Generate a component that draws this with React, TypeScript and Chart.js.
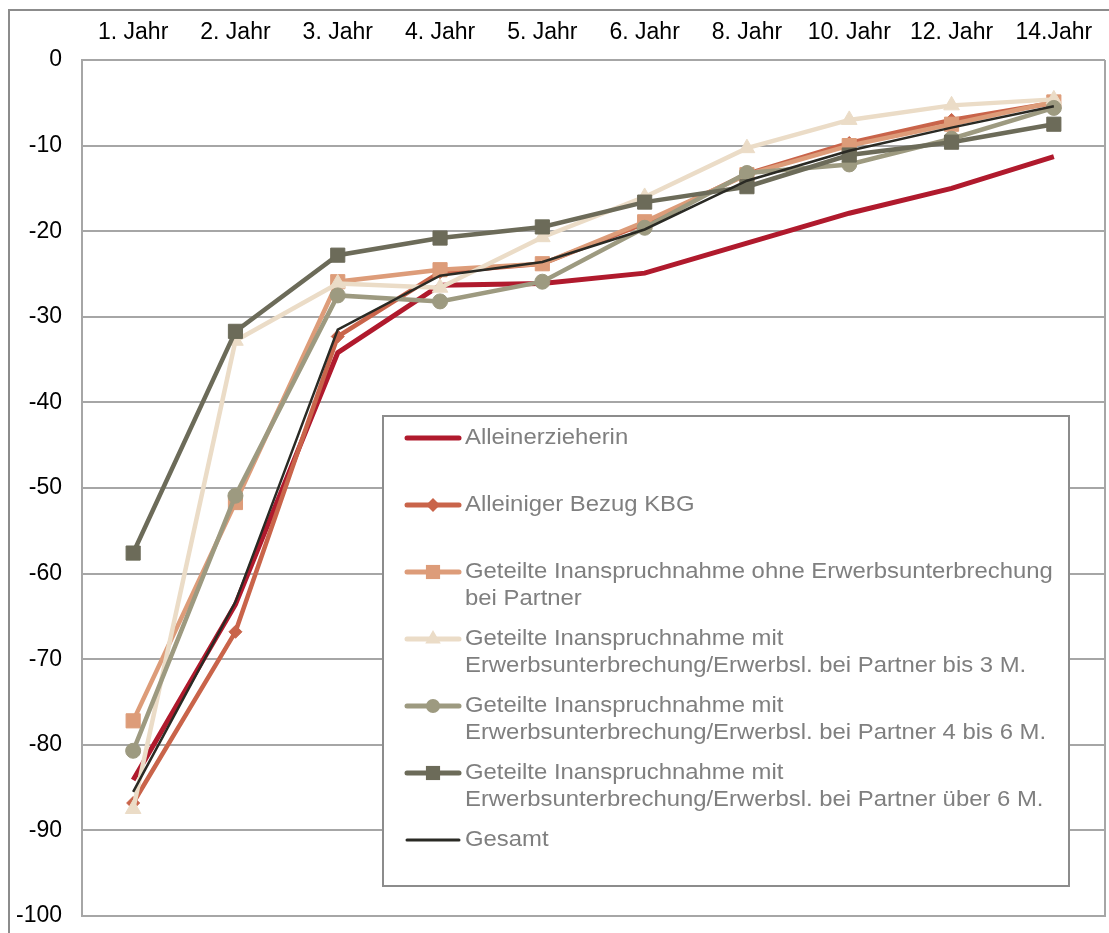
import React, { useEffect, useRef } from "react";
import { Chart, registerables } from "chart.js";

Chart.register(...registerables);

const categories = ["1. Jahr", "2. Jahr", "3. Jahr", "4. Jahr", "5. Jahr", "6. Jahr", "8. Jahr", "10. Jahr", "12. Jahr", "14.Jahr"];

const alleinerzieherin = [-84.1, -63.6, -34.2, -26.3, -26.1, -24.9, -21.4, -17.9, -15.0, -11.3];
const alleinigerBezug = [-86.8, -66.8, -32.3, -24.8, -23.8, -19.1, -13.3, -9.7, -7.0, -5.0];
const ohneUnterbrechung = [-77.2, -51.7, -25.9, -24.5, -23.8, -18.9, -13.4, -10.0, -7.5, -4.9];
const mitBis3M = [-87.5, -32.8, -26.1, -26.6, -20.7, -16.0, -10.3, -7.0, -5.3, -4.6];
const mit4bis6M = [-80.7, -50.9, -27.5, -28.2, -25.9, -19.6, -13.2, -12.2, -9.2, -5.6];
const mitUeber6M = [-57.6, -31.7, -22.8, -20.8, -19.5, -16.6, -14.8, -11.1, -9.6, -7.5];
const gesamt = [-85.5, -63.3, -31.5, -25.2, -23.6, -19.8, -14.1, -10.6, -7.9, -5.4];

const seriesNames: string[][] = [
  ["Alleinerzieherin"],
  ["Alleiniger Bezug KBG"],
  ["Geteilte Inanspruchnahme ohne Erwerbsunterbrechung", "bei Partner"],
  ["Geteilte Inanspruchnahme mit", "Erwerbsunterbrechung/Erwerbsl. bei Partner bis 3 M."],
  ["Geteilte Inanspruchnahme mit", "Erwerbsunterbrechung/Erwerbsl. bei Partner 4 bis 6 M."],
  ["Geteilte Inanspruchnahme mit", "Erwerbsunterbrechung/Erwerbsl. bei Partner über 6 M."],
  ["Gesamt"],
];
const seriesValues = [alleinerzieherin, alleinigerBezug, ohneUnterbrechung, mitBis3M, mit4bis6M, mitUeber6M, gesamt];
const seriesColors = ["#B01A2D", "#C9644A", "#DD9C79", "#EBDCC7", "#9D9A80", "#6C6B59", "#2A2A24"];
const seriesPoints = ["none", "rectRot", "rect", "triangle", "circle", "rect", "none"];
const seriesRadius = [0, 6.5, 10, 9, 7.5, 10, 0];
const seriesWidths = [5, 4.5, 4.5, 4.5, 4.5, 4.5, 2.5];

const FONT = '"Liberation Sans", Arial, sans-serif';
const GRID = "#A6A6A6";

function drawMarker(ctx: CanvasRenderingContext2D, style: string, x: number, y: number, r: number, color: string) {
  ctx.save();
  ctx.fillStyle = color;
  ctx.beginPath();
  if (style === "rect") {
    const s = r * Math.SQRT1_2;
    ctx.rect(x - s, y - s, 2 * s, 2 * s);
  } else if (style === "rectRot") {
    ctx.moveTo(x, y - r);
    ctx.lineTo(x + r, y);
    ctx.lineTo(x, y + r);
    ctx.lineTo(x - r, y);
    ctx.closePath();
  } else if (style === "triangle") {
    ctx.moveTo(x, y - r);
    ctx.lineTo(x + r * 0.866, y + r * 0.5);
    ctx.lineTo(x - r * 0.866, y + r * 0.5);
    ctx.closePath();
  } else if (style === "circle") {
    ctx.arc(x, y, r, 0, Math.PI * 2);
  }
  ctx.fill();
  ctx.restore();
}

const framePlugin = {
  id: "framePlugin",
  beforeDraw(chart: any) {
    const ctx = chart.ctx as CanvasRenderingContext2D;
    ctx.save();
    ctx.fillStyle = "#fff";
    ctx.fillRect(0, 0, chart.width, chart.height);
    ctx.strokeStyle = "#8C8C8C";
    ctx.lineWidth = 2;
    ctx.strokeRect(9, 10, chart.width + 20, chart.height + 20);
    ctx.restore();
  },
  beforeDatasetsDraw(chart: any) {
    const { ctx, chartArea } = chart;
    ctx.save();
    ctx.strokeStyle = GRID;
    ctx.lineWidth = 2;
    ctx.beginPath();
    ctx.moveTo(chartArea.right, chartArea.top);
    ctx.lineTo(chartArea.right, chartArea.bottom);
    ctx.lineTo(chartArea.left, chartArea.bottom);
    ctx.stroke();
    ctx.restore();
  },
  afterDatasetsDraw(chart: any) {
    const ctx = chart.ctx as CanvasRenderingContext2D;
    const bx = 383, by = 416, bw = 686, bh = 470;
    ctx.save();
    ctx.fillStyle = "#fff";
    ctx.fillRect(bx, by, bw, bh);
    ctx.strokeStyle = "#8C8C8C";
    ctx.lineWidth = 2;
    ctx.strokeRect(bx, by, bw, bh);
    ctx.font = `22px ${FONT}`;
    ctx.textBaseline = "middle";
    ctx.textAlign = "left";
    seriesNames.forEach((lines, i) => {
      const y = 438 + i * 67;
      const color = seriesColors[i];
      ctx.strokeStyle = color;
      ctx.lineWidth = i === 6 ? 3 : 5;
      ctx.lineCap = "round";
      ctx.beginPath();
      ctx.moveTo(407, y);
      ctx.lineTo(459, y);
      ctx.stroke();
      if (seriesPoints[i] !== "none") {
        const mr = seriesPoints[i] === "rect" ? 10 : seriesPoints[i] === "triangle" ? 9 : 7;
        drawMarker(ctx, seriesPoints[i], 433, y, mr, color);
      }
      ctx.fillStyle = "#7F7F7F";
      lines.forEach((t, j) => {
        ctx.save();
        ctx.translate(465, y + j * 27);
        ctx.scale(1.085, 1);
        ctx.fillText(t, 0, 0);
        ctx.restore();
      });
    });
    ctx.restore();
  },
};

export default function App() {
  const ref = useRef<HTMLCanvasElement | null>(null);
  useEffect(() => {
    if (!ref.current) return;
    const chart = new Chart(ref.current, {
      type: "line",
      data: {
        labels: categories,
        datasets: seriesValues.map((vals, i) => ({
          label: seriesNames[i].join(" "),
          data: vals,
          borderColor: seriesColors[i],
          backgroundColor: seriesColors[i],
          borderWidth: seriesWidths[i],
          pointStyle: seriesPoints[i] === "none" ? "circle" : (seriesPoints[i] as any),
          pointRadius: seriesRadius[i],
          pointBorderWidth: 1,
          pointBorderColor: seriesColors[i],
          pointBackgroundColor: seriesColors[i],
          tension: 0,
          fill: false,
          order: seriesValues.length - i,
        })),
      },
      options: {
        animation: false,
        responsive: false,
        maintainAspectRatio: false,
        layout: { autoPadding: false, padding: { left: 0, right: 4, top: 0, bottom: 17 } },
        plugins: { legend: { display: false }, tooltip: { enabled: false } },
        scales: {
          x: {
            position: "top",
            offset: true,
            grid: { display: false, drawTicks: false },
            border: { display: false },
            ticks: {
              color: "#000",
              font: { family: FONT, size: 23 },
              padding: 14,
              maxRotation: 0,
              autoSkip: false,
            },
            afterFit: (s: any) => {
              s.height = 60;
              s.paddingLeft = 0;
              s.paddingRight = 0;
            },
          },
          y: {
            min: -100,
            max: 0,
            ticks: {
              stepSize: 10,
              padding: 20,
              color: "#000",
              font: { family: FONT, size: 23 },
            },
            grid: { color: GRID, lineWidth: 2, drawTicks: false },
            border: { display: true, color: GRID, width: 2 },
            afterFit: (s: any) => {
              s.width = 82;
              s.paddingTop = 0;
              s.paddingBottom = 0;
            },
          },
        },
      },
      plugins: [framePlugin],
    });
    return () => chart.destroy();
  }, []);
  return (
    <div style={{ position: "absolute", left: 0, top: 0, width: 1109, height: 933 }}>
      <canvas ref={ref} width={1109} height={933} style={{ width: 1109, height: 933, display: "block" }} />
    </div>
  );
}
